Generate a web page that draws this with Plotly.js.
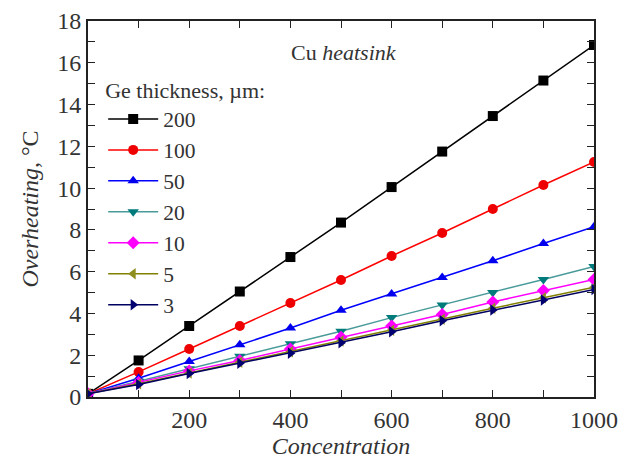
<!DOCTYPE html>
<html><head><meta charset="utf-8">
<script src="https://cdn.plot.ly/plotly-3.0.1.min.js"></script>
</head><body style="margin:0;padding:0;background:#fff"><div id="chart"></div>
<script>
const concentration = [0, 100, 200, 300, 400, 500, 600, 700, 800, 900, 1000];
const seriesNames = ['200', '100', '50', '20', '10', '5', '3'];
const t200 = [0.15, 1.75, 3.4, 5.05, 6.7, 8.35, 10.05, 11.75, 13.45, 15.15, 16.85];
const t100 = [0.15, 1.2, 2.3, 3.4, 4.5, 5.6, 6.75, 7.85, 9.0, 10.15, 11.25];
const t50 = [0.15, 0.9, 1.7, 2.5, 3.3, 4.15, 4.93, 5.72, 6.52, 7.35, 8.15];
const t20 = [0.15, 0.75, 1.35, 1.95, 2.55, 3.15, 3.8, 4.4, 5.0, 5.63, 6.25];
const t10 = [0.15, 0.7, 1.25, 1.75, 2.3, 2.86, 3.4, 3.95, 4.55, 5.1, 5.63];
const t5 = [0.15, 0.63, 1.15, 1.67, 2.17, 2.68, 3.2, 3.72, 4.25, 4.75, 5.25];
const t3 = [0.15, 0.6, 1.12, 1.62, 2.1, 2.6, 3.12, 3.65, 4.16, 4.64, 5.15];
const xTickVals = [200, 400, 600, 800, 1000];
const yTickVals = [0, 2, 4, 6, 8, 10, 12, 14, 16, 18];

const allY = [t200, t100, t50, t20, t10, t5, t3];
const styles = [
  {line: '#000000', marker: '#000000', symbol: 'square'},
  {line: '#ff0000', marker: '#ee0000', symbol: 'circle'},
  {line: '#0000ff', marker: '#0000ee', symbol: 'triangle-up'},
  {line: '#4a9a9a', marker: '#007b7b', symbol: 'triangle-down'},
  {line: '#ff00ff', marker: '#ff00ff', symbol: 'diamond'},
  {line: '#808000', marker: '#8f8f20', symbol: 'triangle-left'},
  {line: '#000060', marker: '#000070', symbol: 'triangle-right'}
];

const FAM = 'Liberation Serif, serif';
const TXT = '#333333';

function build() {
  const traces = allY.map((ys, i) => ({
    x: concentration, y: ys, name: seriesNames[i], type: 'scatter', mode: 'lines+markers',
    line: {color: styles[i].line, width: 1.5},
    marker: {color: styles[i].marker, symbol: styles[i].symbol, size: 10}
  }));
  const layout = {
    width: 629, height: 460,
    margin: {l: 88, r: 35, t: 21, b: 63},
    paper_bgcolor: '#ffffff', plot_bgcolor: '#ffffff',
    showlegend: true,
    xaxis: {
      showline: true, linecolor: '#222', linewidth: 2, mirror: 'ticks', ticks: 'inside',
      ticklen: 7, tickwidth: 1.3, tickcolor: '#222', showgrid: false, zeroline: false,
      tickfont: {family: FAM, size: 24, color: TXT},
      range: [0, 1000], tickmode: 'array', tickvals: xTickVals, ticktext: xTickVals.map(String),
      minor: {dtick: 100, ticks: 'inside', ticklen: 7, tickwidth: 1.3, tickcolor: '#222', tick0: 0},
      title: {text: '<i>Concentration</i>', font: {family: FAM, size: 24, color: TXT}, standoff: 2}
    },
    yaxis: {
      showline: true, linecolor: '#222', linewidth: 2, mirror: 'ticks', ticks: 'inside',
      ticklen: 7, tickwidth: 1.3, tickcolor: '#222', showgrid: false, zeroline: false,
      tickfont: {family: FAM, size: 24, color: TXT},
      range: [0, 18], tickmode: 'array', tickvals: yTickVals, ticktext: yTickVals.map(String),
      minor: {dtick: 1, ticks: 'inside', ticklen: 7, tickwidth: 1.3, tickcolor: '#222', tick0: 0},
      title: {text: '<i>Overheating</i>, °C', font: {family: FAM, size: 24, color: TXT}, standoff: 12}
    },
    legend: {
      x: 0.03, y: 0.87, xanchor: 'left', yanchor: 'top',
      bgcolor: 'rgba(0,0,0,0)', borderwidth: 0, itemwidth: 50,
      font: {family: FAM, size: 21.5, color: TXT},
      title: {text: 'Ge thickness, µm:', font: {family: FAM, size: 22, color: TXT}},
      tracegroupgap: 0
    },
    annotations: [{
      text: 'Cu <i>heatsink</i>', xref: 'paper', yref: 'paper', x: 0.505, y: 0.915,
      xanchor: 'center', yanchor: 'middle', showarrow: false,
      font: {family: FAM, size: 22, color: TXT}
    }]
  };
  Plotly.newPlot('chart', traces, layout, {displayModeBar: false});
}
build();
</script></body></html>
